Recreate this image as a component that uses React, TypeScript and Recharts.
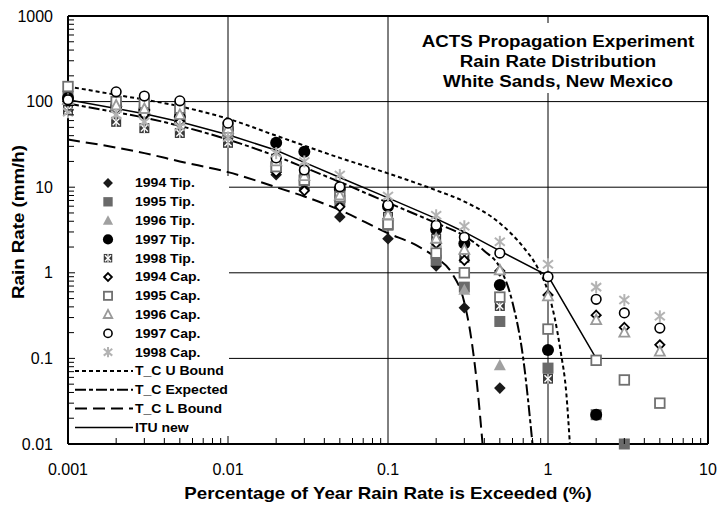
import React from 'react';
import { ComposedChart, XAxis, YAxis, Scatter, Line, ReferenceLine } from 'recharts';

const FONT = '"Liberation Sans", Arial, Helvetica, sans-serif';
const SX = 1.17;

// categories: percentage of year exceeded
const pct = [0.001, 0.002, 0.003, 0.005, 0.01, 0.02, 0.03, 0.05, 0.1, 0.2, 0.3, 0.5, 1, 2, 3, 5];

// measured series (rain rate mm/h); null = no point
const tip1994 = [100, 80, 70, 60, 40, 14, 9.5, 4.5, 2.5, 1.2, 0.39, 0.045, null, null, null, null];
const tip1995 = [115, 90, 80, 65, 45, 17, 12, 7, 3.6, 1.4, 0.68, 0.27, 0.077, 0.022, 0.01, null];
const tip1996 = [105, 85, 75, 60, 42, 17, 13, 7.5, 4.5, 2.3, 0.63, 0.083, null, null, null, null];
const tip1997 = [110, 88, 80, 66, 48, 33, 26, 9.5, 6, 3.2, 2.2, 0.72, 0.125, 0.022, null, null];
const tip1998 = [80, 58, 49, 43, 33, 20, 15, 8.5, 4.5, 2.5, 1.5, 0.41, 0.058, null, null, null];
const cap1994 = [100, 80, 70, 58, 42, 15, 9.1, 5.9, 4.3, 2.2, 1.4, 1.05, 0.55, 0.32, 0.23, 0.144];
const cap1995 = [150, 100, 96, 84, 50, 17.4, 12.1, 7.7, 3.7, 1.7, 1.0, 0.52, 0.22, 0.095, 0.056, 0.03];
const cap1996 = [105, 90, 82, 70, 48, 20, 13.5, 8, 4.7, 2.5, 1.85, 1.07, 0.53, 0.28, 0.2, 0.12];
const cap1997 = [105, 130, 116, 102, 56, 22, 15.9, 10.1, 6.2, 3.6, 2.6, 1.7, 0.9, 0.49, 0.34, 0.226];
const cap1998 = [75, 70, 58, 51, 38, 25, 20, 13.9, 7.9, 4.7, 3.5, 2.3, 1.26, 0.68, 0.48, 0.31];

// model curves
const ituX = [0.001, 0.002, 0.003, 0.005, 0.01, 0.02, 0.03, 0.05, 0.1, 0.2, 0.3, 0.5, 1, 2];
const ituY = [105, 83, 72, 58, 41, 27, 19.5, 13, 7.5, 4.3, 3.0, 1.8, 0.92, 0.1];
const upX = [0.001, 0.002, 0.005, 0.01, 0.02, 0.05, 0.1, 0.2, 0.3, 0.5, 0.7, 0.85, 1, 1.1, 1.2, 1.3, 1.37];
const upY = [150, 120, 88, 63, 40, 22, 14.5, 9.2, 6.8, 3.8, 2.0, 1.2, 0.6, 0.3, 0.12, 0.04, 0.01];
const expX = [0.001, 0.002, 0.003, 0.005, 0.01, 0.02, 0.03, 0.05, 0.1, 0.2, 0.3, 0.4, 0.5, 0.6, 0.7, 0.8];
const expY = [95, 75, 65, 52, 36, 23, 17, 11.5, 6.6, 3.8, 2.7, 1.8, 1.15, 0.45, 0.1, 0.01];
const lowX = [0.001, 0.002, 0.003, 0.005, 0.01, 0.02, 0.03, 0.05, 0.1, 0.15, 0.2, 0.25, 0.3, 0.33, 0.36, 0.39];
const lowY = [36, 29, 25, 20, 15, 10, 7.8, 5.4, 2.9, 2.1, 1.5, 1.0, 0.45, 0.18, 0.05, 0.01];

// axes
const xMajor = [0.001, 0.01, 0.1, 1, 10];
const xMajorLabels = ['0.001', '0.01', '0.1', '1', '10'];
const yMajor = [0.01, 0.1, 1, 10, 100, 1000];
const yMajorLabels = ['0.01', '0.1', '1', '10', '100', '1000'];
const minorMult = [2, 3, 4, 5, 6, 7, 8, 9];

const withMinors = (majors: number[]) => {
  const out: number[] = [];
  majors.forEach((m, i) => {
    out.push(m);
    if (i < majors.length - 1) minorMult.forEach((k) => out.push(Number((m * k).toPrecision(3))));
  });
  return out;
};
const xTicks = withMinors(xMajor);
const yTicks = withMinors(yMajor);
const majorIndex = (arr: number[], v: number) => arr.findIndex((m) => Math.abs(m - v) / m < 1e-6);

const mk = (xs: number[], ys: (number | null)[]) =>
  xs.map((x, i) => ({ x, y: ys[i] })).filter((d) => d.y != null);

type Kind = 'dFill' | 'sFill' | 'tFill' | 'cFill' | 'xBox' | 'dOpen' | 'sOpen' | 'tOpen' | 'cOpen' | 'ast';

function Marker({ kind, cx, cy, s = 1 }: { kind: Kind; cx: number; cy: number; s?: number }) {
  if (cx == null || cy == null) return null;
  switch (kind) {
    case 'dFill': {
      const r = 5.8 * s;
      return <path d={`M${cx},${cy - r}L${cx + r},${cy}L${cx},${cy + r}L${cx - r},${cy}Z`} fill="#1a1a1a" />;
    }
    case 'sFill': {
      const h = 5.5 * s;
      return <rect x={cx - h} y={cy - h} width={2 * h} height={2 * h} fill="#6a6a6a" />;
    }
    case 'tFill': {
      const h = 6 * s;
      return <path d={`M${cx},${cy - h * 1.05}L${cx + h},${cy + h * 0.8}L${cx - h},${cy + h * 0.8}Z`} fill="#a0a0a0" />;
    }
    case 'cFill':
      return <circle cx={cx} cy={cy} r={6 * s} fill="#000" />;
    case 'xBox': {
      const h = 5 * s;
      return (
        <g>
          <rect x={cx - h} y={cy - h} width={2 * h} height={2 * h} fill="#3a3a3a" />
          <line x1={cx - h * 0.7} y1={cy - h * 0.7} x2={cx + h * 0.7} y2={cy + h * 0.7} stroke="#fff" strokeWidth={1.4} />
          <line x1={cx - h * 0.7} y1={cy + h * 0.7} x2={cx + h * 0.7} y2={cy - h * 0.7} stroke="#fff" strokeWidth={1.4} />
          <line x1={cx} y1={cy - h} x2={cx} y2={cy + h} stroke="#fff" strokeWidth={1.2} />
        </g>
      );
    }
    case 'dOpen': {
      const r = 4.6 * s;
      return <path d={`M${cx},${cy - r}L${cx + r},${cy}L${cx},${cy + r}L${cx - r},${cy}Z`} fill="#fff" stroke="#000" strokeWidth={1.8} />;
    }
    case 'sOpen': {
      const h = 4.8 * s;
      return <rect x={cx - h} y={cy - h} width={2 * h} height={2 * h} fill="#fff" stroke="#707070" strokeWidth={1.8} />;
    }
    case 'tOpen': {
      const h = 5 * s;
      return <path d={`M${cx},${cy - h * 1.1}L${cx + h},${cy + h * 0.8}L${cx - h},${cy + h * 0.8}Z`} fill="#fff" stroke="#9a9a9a" strokeWidth={1.8} />;
    }
    case 'cOpen':
      return <circle cx={cx} cy={cy} r={4.8 * s} fill="#fff" stroke="#000" strokeWidth={1.6} />;
    case 'ast': {
      const h = 6 * s;
      const d = 5 * s;
      return (
        <g stroke="#b3b3b3" strokeWidth={2}>
          <line x1={cx} y1={cy - h} x2={cx} y2={cy + h} />
          <line x1={cx - d} y1={cy - d * 0.8} x2={cx + d} y2={cy + d * 0.8} />
          <line x1={cx - d} y1={cy + d * 0.8} x2={cx + d} y2={cy - d * 0.8} />
        </g>
      );
    }
  }
  return null;
}

const scatterSeries: { name: string; kind: Kind; values: (number | null)[] }[] = [
  { name: '1994 Tip.', kind: 'dFill', values: tip1994 },
  { name: '1995 Tip.', kind: 'sFill', values: tip1995 },
  { name: '1996 Tip.', kind: 'tFill', values: tip1996 },
  { name: '1997 Tip.', kind: 'cFill', values: tip1997 },
  { name: '1998 Tip.', kind: 'xBox', values: tip1998 },
  { name: '1994 Cap.', kind: 'dOpen', values: cap1994 },
  { name: '1995 Cap.', kind: 'sOpen', values: cap1995 },
  { name: '1996 Cap.', kind: 'tOpen', values: cap1996 },
  { name: '1997 Cap.', kind: 'cOpen', values: cap1997 },
  { name: '1998 Cap.', kind: 'ast', values: cap1998 },
];

const lineSeries = [
  { name: 'T_C U Bound', xs: upX, ys: upY, dash: '4 3', width: 2 },
  { name: 'T_C Expected', xs: expX, ys: expY, dash: '11 3 4 3', width: 2 },
  { name: 'T_C L Bound', xs: lowX, ys: lowY, dash: '12 6', width: 2 },
  { name: 'ITU new', xs: ituX, ys: ituY, dash: undefined, width: 1.5 },
];

const XTick = (props: any) => {
  const { x, y, payload } = props;
  const idx = majorIndex(xMajor, payload.value);
  if (idx >= 0) {
    return (
      <text x={x} y={y + 31} textAnchor="middle" fontSize={16} fontFamily={FONT} fill="#000">
        {xMajorLabels[idx]}
      </text>
    );
  }
  return <line x1={x} x2={x} y1={y} y2={y - 6} stroke="#000" strokeWidth={1} />;
};

const YTick = (props: any) => {
  const { x, y, payload } = props;
  const idx = majorIndex(yMajor, payload.value);
  if (idx >= 0) {
    return (
      <text x={x - 15} y={y + 5.5} textAnchor="end" fontSize={16} fontFamily={FONT} fill="#000">
        {yMajorLabels[idx]}
      </text>
    );
  }
  return <line x1={x} x2={x + 6} y1={y} y2={y} stroke="#000" strokeWidth={1} />;
};

const LEG_LEFT = 75;
const LEG_TOP = 176;

function LegendBox() {
  const rowY = (i: number) => 183 + i * 18.8 - LEG_TOP;
  return (
    <div style={{ position: 'absolute', left: LEG_LEFT, top: LEG_TOP, width: 154, height: 260, background: '#fff' }}>
      <svg width={154} height={260} style={{ display: 'block' }}>
        {scatterSeries.map((s, i) => (
          <g key={s.name}>
            <Marker kind={s.kind} cx={108 - LEG_LEFT} cy={rowY(i)} s={0.85} />
            <text
              transform={`translate(${135 - LEG_LEFT},${rowY(i) + 4.4}) scale(${SX},1)`}
              fontSize={12}
              fontWeight="bold"
              fontFamily={FONT}
              fill="#000"
            >
              {s.name}
            </text>
          </g>
        ))}
        {lineSeries.map((s, j) => {
          const i = j + scatterSeries.length;
          return (
            <g key={s.name}>
              <line x1={0} x2={133 - LEG_LEFT} y1={rowY(i)} y2={rowY(i)} stroke="#000" strokeWidth={s.width} strokeDasharray={s.dash} />
              <text
                transform={`translate(${135 - LEG_LEFT},${rowY(i) + 4.4}) scale(${SX},1)`}
                fontSize={12}
                fontWeight="bold"
                fontFamily={FONT}
                fill="#000"
              >
                {s.name}
              </text>
            </g>
          );
        })}
      </svg>
    </div>
  );
}

const titleLines = ['ACTS Propagation Experiment', 'Rain Rate Distribution', 'White Sands, New Mexico'];

function TitleBox() {
  return (
    <div
      style={{
        position: 'absolute',
        left: 418,
        top: 23,
        width: 280,
        height: 70,
        background: '#fff',
        paddingTop: 9,
        boxSizing: 'border-box',
        fontFamily: FONT,
        fontWeight: 'bold',
        fontSize: 16,
        lineHeight: '20px',
        color: '#000',
        textAlign: 'center',
      }}
    >
      {titleLines.map((t) => (
        <div key={t} style={{ transform: `scaleX(${SX})`, transformOrigin: '50% 50%', whiteSpace: 'nowrap' }}>
          {t}
        </div>
      ))}
    </div>
  );
}

export default function App() {
  return (
    <div style={{ position: 'absolute', left: 0, top: 0, width: 720, height: 508, background: '#fff', overflow: 'hidden' }}>
      <ComposedChart width={720} height={508} margin={{ top: 16, right: 12, bottom: 34, left: 8 }}>
        <XAxis
          dataKey="x"
          type="number"
          scale="log"
          domain={[0.001, 10]}
          ticks={xTicks}
          interval={0}
          tick={XTick}
          tickLine={false}
          tickSize={0}
          tickMargin={0}
          height={30}
          axisLine={{ stroke: '#000', strokeWidth: 2 }}
        />
        <YAxis
          dataKey="y"
          type="number"
          scale="log"
          domain={[0.01, 1000]}
          ticks={yTicks}
          interval={0}
          tick={YTick}
          tickLine={false}
          tickSize={0}
          tickMargin={0}
          width={60}
          axisLine={{ stroke: '#000', strokeWidth: 2 }}
        />
        {yMajor.slice(1, -1).map((v) => (
          <ReferenceLine key={'gy' + v} y={v} stroke="#000" strokeWidth={1} />
        ))}
        {xMajor.slice(1, -1).map((v) => (
          <ReferenceLine key={'gx' + v} x={v} stroke="#000" strokeWidth={1} />
        ))}
        <ReferenceLine y={1000} stroke="#000" strokeWidth={2} />
        <ReferenceLine x={10} stroke="#000" strokeWidth={2} />
        {lineSeries.map((s) => (
          <Line
            key={s.name}
            name={s.name}
            data={mk(s.xs, s.ys)}
            dataKey="y"
            type={s.dash ? 'monotone' : 'linear'}
            stroke="#000"
            strokeWidth={s.width}
            strokeDasharray={s.dash}
            dot={false}
            activeDot={false}
            isAnimationActive={false}
          />
        ))}
        {scatterSeries.map((s) => (
          <Scatter
            key={s.name}
            name={s.name}
            data={mk(pct, s.values)}
            dataKey="y"
            isAnimationActive={false}
            shape={(p: any) => <Marker kind={s.kind} cx={p.cx} cy={p.cy} />}
          />
        ))}
      </ComposedChart>
      <svg width={720} height={508} style={{ position: 'absolute', left: 0, top: 0, pointerEvents: 'none' }}>
        <text
          transform={`translate(388,499) scale(${SX},1)`}
          textAnchor="middle"
          fontSize={16}
          fontWeight="bold"
          fontFamily={FONT}
          fill="#000"
        >
          Percentage of Year Rain Rate is Exceeded (%)
        </text>
        <text
          transform={`translate(24,222) rotate(-90) scale(${SX},1)`}
          textAnchor="middle"
          fontSize={16}
          fontWeight="bold"
          fontFamily={FONT}
          fill="#000"
        >
          Rain Rate (mm/h)
        </text>
      </svg>
      <TitleBox />
      <LegendBox />
    </div>
  );
}
